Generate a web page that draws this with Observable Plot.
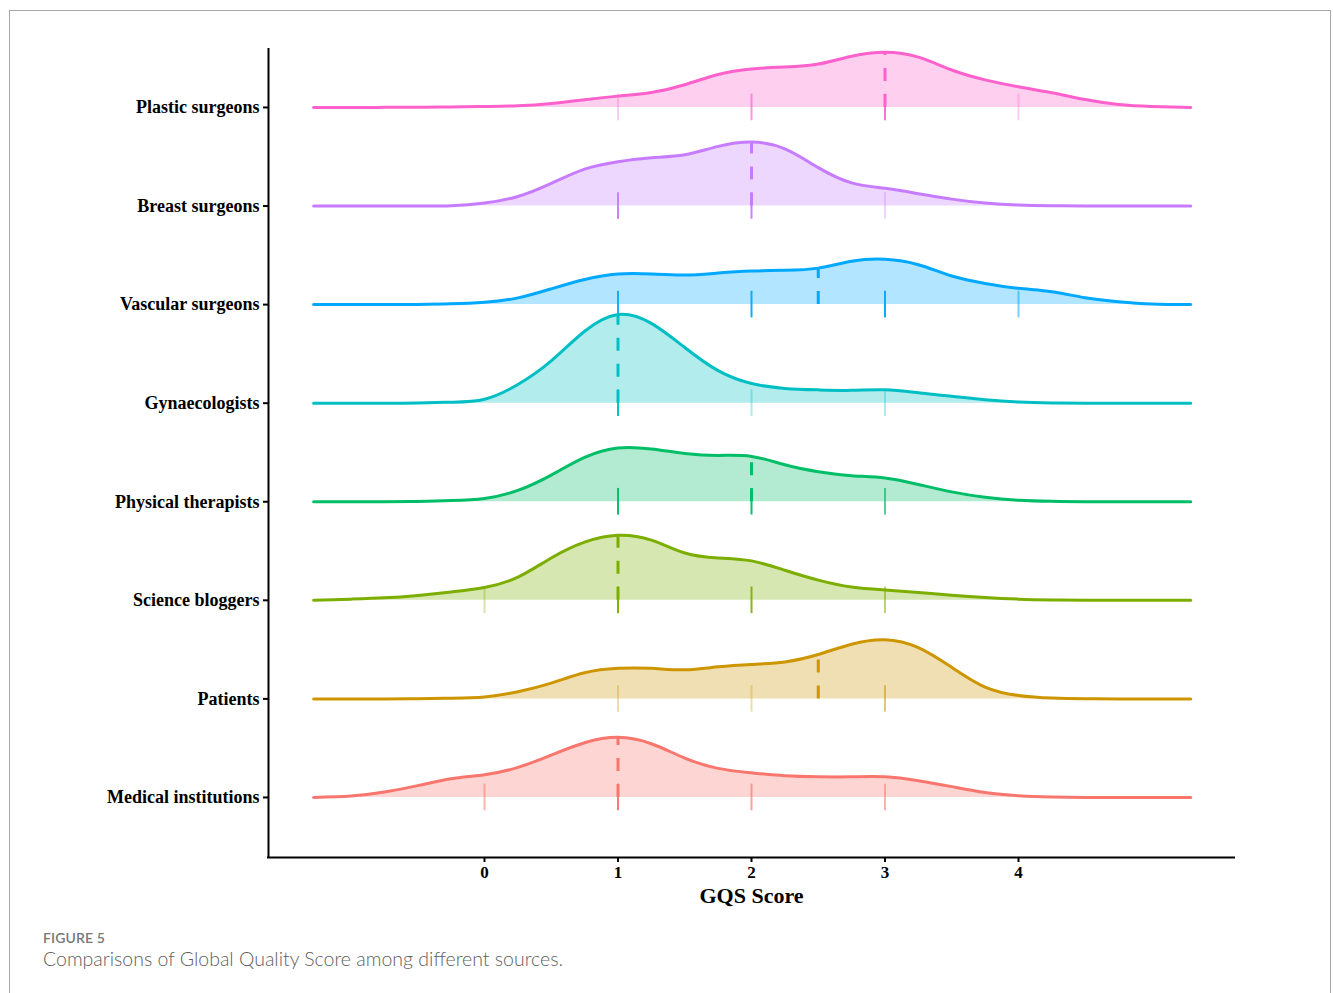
<!DOCTYPE html>
<html>
<head>
<meta charset="utf-8">
<script src="https://cdn.jsdelivr.net/npm/d3@7"></script>
<script src="https://cdn.jsdelivr.net/npm/@observablehq/plot@0.6"></script>
<style>
  html, body { margin: 0; padding: 0; background: #fff; }
  #page { position: relative; width: 1333px; height: 993px; overflow: hidden; background: #fff; }
  #frame { position: absolute; left: 9px; top: 10px; width: 1322px; height: 1010px; border: 1px solid #a6a6a6; box-sizing: border-box; }
  #chart { position: absolute; left: 0; top: 0; }
  #figlabel { position: absolute; left: 43px; top: 929px; font-family: Lato, "Open Sans", sans-serif; font-size: 14px; font-weight: 600; color: #777; letter-spacing: 0.1px; }
  #caption { position: absolute; left: 43px; top: 947px; font-family: Lato, "Open Sans", sans-serif; font-size: 19.5px; font-weight: 300; color: #5e5e5e; }
</style>
</head>
<body>
<div id="page">
  <div id="frame"></div>
  <div id="chart"></div>
  <div id="figlabel">FIGURE 5</div>
  <div id="caption">Comparisons of Global Quality Score among different sources.</div>
</div>
<script>
// Categories from bottom (index 0) to top (index 7)
const categories = ["Medical institutions", "Patients", "Science bloggers", "Physical therapists",
                    "Gynaecologists", "Vascular surgeons", "Breast surgeons", "Plastic surgeons"];
const colors = ["#F8766D", "#CD9600", "#7CAE00", "#00BE67", "#00BFC4", "#00A9FF", "#C77CFF", "#FF61CC"];

// GQS positions at which the ridge heights were read
const gqsGrid = [-1.28, -1, -0.75, -0.5, -0.25, 0, 0.25, 0.5, 0.75, 1, 1.25, 1.5, 1.75, 2, 2.25, 2.5,
                 2.75, 3, 3.25, 3.5, 3.75, 4, 4.25, 4.5, 4.75, 5, 5.29];

// Ridge heights (in units of row spacing), one array per category
const medicalDensity   = [0, 0.014, 0.055, 0.12, 0.19, 0.23, 0.305, 0.43, 0.555, 0.61, 0.545, 0.40, 0.295, 0.25, 0.22, 0.21, 0.21, 0.21, 0.17, 0.11, 0.05, 0.017, 0.004, 0, 0, 0, 0];
const patientsDensity  = [0, 0, 0, 0.002, 0.007, 0.02, 0.073, 0.16, 0.265, 0.31, 0.31, 0.295, 0.325, 0.35, 0.375, 0.45, 0.555, 0.60, 0.52, 0.32, 0.12, 0.035, 0.008, 0.001, 0, 0, 0];
const scienceDensity   = [0, 0.012, 0.025, 0.05, 0.085, 0.13, 0.235, 0.43, 0.59, 0.66, 0.61, 0.48, 0.43, 0.40, 0.305, 0.205, 0.135, 0.105, 0.08, 0.052, 0.028, 0.012, 0.004, 0, 0, 0, 0];
const physicalDensity  = [0, 0, 0, 0.003, 0.012, 0.034, 0.115, 0.27, 0.45, 0.545, 0.535, 0.49, 0.47, 0.46, 0.375, 0.305, 0.265, 0.24, 0.175, 0.10, 0.045, 0.015, 0.004, 0, 0, 0, 0];
const gynaeDensity     = [0, 0, 0, 0.002, 0.01, 0.04, 0.19, 0.43, 0.73, 0.90, 0.81, 0.565, 0.33, 0.20, 0.15, 0.135, 0.13, 0.135, 0.105, 0.07, 0.035, 0.012, 0.003, 0, 0, 0, 0];
const vascularDensity  = [0, 0, 0, 0.002, 0.008, 0.024, 0.068, 0.16, 0.255, 0.31, 0.31, 0.30, 0.32, 0.34, 0.348, 0.37, 0.44, 0.46, 0.405, 0.29, 0.215, 0.165, 0.13, 0.07, 0.03, 0.007, 0];
const breastDensity    = [0, 0, 0, 0, 0.003, 0.03, 0.097, 0.23, 0.375, 0.45, 0.49, 0.52, 0.605, 0.65, 0.58, 0.39, 0.235, 0.18, 0.125, 0.07, 0.03, 0.01, 0.003, 0, 0, 0, 0];
const plasticDensity   = [0, 0, 0.001, 0.002, 0.005, 0.01, 0.017, 0.04, 0.078, 0.115, 0.152, 0.23, 0.335, 0.39, 0.41, 0.44, 0.52, 0.56, 0.51, 0.38, 0.28, 0.21, 0.15, 0.08, 0.03, 0.01, 0];
const densities = [medicalDensity, patientsDensity, scienceDensity, physicalDensity,
                   gynaeDensity, vascularDensity, breastDensity, plasticDensity];

// Median GQS per category (dashed lines)
const medians = [1, 2.5, 1, 2, 1, 2.5, 2, 3];

// Observed scores (rug marks) and approximate number of overlapping observations
const rugScores = [[0, 1, 2, 3], [1, 2, 3], [0, 1, 2, 3], [1, 2, 3], [1, 2, 3], [1, 2, 3, 4], [1, 2, 3], [1, 2, 3, 4]];
const rugCounts = [[2, 8, 3, 2], [1, 1, 2], [1, 8, 6, 2], [8, 8, 3], [8, 1, 1], [6, 8, 8, 2], [8, 8, 1], [1, 3, 6, 1]];

const xTicks = [0, 1, 2, 3, 4];

// ---- derived tables ----
const ridgeRows = categories.map((cat, i) =>
  gqsGrid.map((x, j) => ({cat, i, x, top: i + densities[i][j]})));
const rugRows = categories.map((cat, i) =>
  rugScores[i].map((x, k) => ({cat, i, x, n: rugCounts[i][k]})));
const medianRows = categories.map((cat, i) => {
  const j = gqsGrid.indexOf(medians[i]);
  return [{cat, i, x: medians[i], top: i + densities[i][j]}];
});

const tickHalf = 0.135;
const order = d3.range(categories.length).reverse(); // top ridge drawn first
const curve = "natural";

const marks = [];
for (const i of order) {
  marks.push(Plot.areaY(ridgeRows[i], {x: "x", y1: "i", y2: "top", fill: "cat", fillOpacity: 0.3, curve}));
  marks.push(Plot.ruleX(rugRows[i], {x: "x", y1: d => d.i - tickHalf, y2: d => d.i + tickHalf, stroke: "cat",
                                     strokeWidth: 2, strokeOpacity: d => 1 - Math.pow(0.68, d.n)}));
  marks.push(Plot.ruleX(medianRows[i], {x: "x", y1: "i", y2: "top", stroke: "cat", strokeWidth: 3, strokeDasharray: "13,13"}));
  marks.push(Plot.line(ridgeRows[i], {x: "x", y: "top", stroke: "cat", strokeWidth: 3, curve, strokeLinecap: "round"}));
}

const xMin = -1.618, xMax = 5.618, yMin = -0.609, yMax = 7.588;

const chart = Plot.plot({
  width: 1333,
  height: 910,
  marginLeft: 268,
  marginRight: 99,
  marginTop: 49,
  marginBottom: 53,
  style: {fontFamily: "'Liberation Serif', 'Times New Roman', serif", color: "black", background: "transparent", overflow: "visible"},
  x: {type: "linear", domain: [xMin, xMax], axis: null},
  y: {type: "linear", domain: [yMin, yMax], axis: null},
  color: {domain: categories, range: colors},
  marks: [
    ...marks,
    Plot.ruleX([xMin], {stroke: "black", strokeWidth: 2, strokeLinecap: "square"}),
    Plot.ruleY([yMin], {stroke: "black", strokeWidth: 2, strokeLinecap: "square"}),
    Plot.axisY({ticks: d3.range(categories.length), tickFormat: i => categories[i], tickSize: 5, tickPadding: 4,
                fontSize: 18, fontWeight: "bold", label: null, strokeWidth: 2}),
    Plot.axisX({ticks: xTicks, tickFormat: d3.format("d"), tickSize: 5, tickPadding: 3,
                fontSize: 17, fontWeight: "bold", label: null, strokeWidth: 2}),
    Plot.text(["GQS Score"], {frameAnchor: "bottom", dy: 45, fontSize: 22, fontWeight: "bold", fill: "black"})
  ]
});
document.getElementById("chart").appendChild(chart);
</script>
</body>
</html>
